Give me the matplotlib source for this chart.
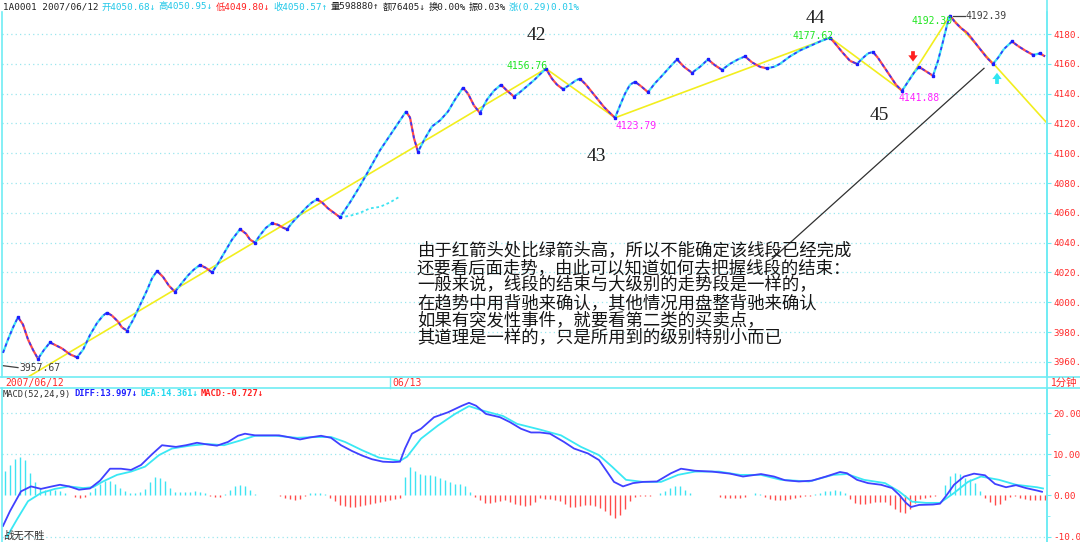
import numpy as np
import matplotlib.pyplot as plt
from matplotlib.collections import LineCollection
from matplotlib.lines import Line2D

# ---- price data (1 min bars, bar index ~ screen position) ----
price_bar = [3, 8, 13, 18, 23, 28, 33, 38, 44, 50, 56, 62, 70, 77, 83, 90, 97, 103,
             107, 112, 118, 122, 127, 133, 140, 147, 152, 157, 163, 169, 175, 182,
             188, 194, 200, 206, 212, 218, 225, 232, 240, 246, 250, 255, 260, 266,
             272, 278, 283, 287, 293, 300, 307, 312, 317, 322, 328, 334, 340, 350,
             360, 370, 380, 390, 400, 406, 410, 414, 418, 425, 432, 440, 448, 455,
             463, 468, 474, 480, 487, 494, 501, 507, 514, 520, 527, 534, 540, 546,
             552, 557, 563, 570, 576, 580, 586, 592, 598, 604, 610, 615, 620, 625,
             630, 635, 641, 648, 655, 662, 670, 677, 684, 692, 700, 708, 715, 722,
             730, 738, 745, 752, 760, 767, 774, 780, 790, 800, 810, 820, 830, 836,
             842, 850, 857, 863, 868, 873, 878, 885, 890, 896, 902, 908, 914, 919,
             926, 933, 938, 943, 947, 950, 955, 961, 967, 973, 980, 987, 993, 998,
             1004, 1012, 1018, 1025, 1033, 1040, 1045]
price_close = [3966, 3975, 3983, 3990, 3985, 3975, 3968, 3962, 3968, 3973, 3971, 3969,
               3965, 3963, 3968, 3978, 3986, 3991, 3993, 3991, 3987, 3983, 3981, 3988,
               3998, 4008, 4016, 4021, 4017, 4011, 4007, 4013, 4018, 4022, 4025, 4023,
               4020, 4026, 4034, 4042, 4049, 4046, 4042, 4040, 4045, 4050, 4053, 4052,
               4050, 4049, 4054, 4059, 4064, 4067, 4069, 4067, 4063, 4060, 4057, 4067,
               4078, 4090, 4102, 4112, 4122, 4128, 4124, 4110, 4101, 4110, 4118, 4122,
               4128, 4136, 4144, 4140, 4132, 4127, 4136, 4142, 4146, 4142, 4138, 4141,
               4145, 4149, 4153, 4156.76, 4150, 4146, 4143, 4146, 4149, 4150, 4146, 4141,
               4136, 4131, 4127, 4123.79, 4132, 4140, 4146, 4148, 4145, 4141, 4147, 4152,
               4158, 4163, 4158, 4154, 4158, 4163, 4159, 4156, 4160, 4163, 4165, 4161,
               4158, 4157, 4158, 4160, 4165, 4169, 4172, 4175, 4177.62, 4173, 4168, 4162,
               4160, 4164, 4167, 4168, 4164, 4157, 4152, 4146, 4141.88, 4148, 4154, 4158,
               4155, 4152, 4162, 4175, 4186, 4192.39, 4188, 4184, 4181, 4176, 4170, 4164,
               4160, 4164, 4170, 4175, 4172, 4169, 4166, 4167, 4165]

# short cyan dotted line (afternoon of 06/12)
aux_bar = [340, 350, 360, 370, 380, 390, 400]
aux_close = [4057, 4058, 4060, 4063, 4064, 4067, 4071]

# segment (xianduan) zigzag
seg_bar = [28, 546, 615, 830, 902, 950, 1046]
seg_val = [3949.8, 4156.76, 4123.79, 4177.62, 4141.88, 4192.39, 4121]

trend_bar = [772, 984]
trend_val = [4029, 4157]

price_ticks = [3960, 3980, 4000, 4020, 4040, 4060, 4080, 4100, 4120, 4140, 4160, 4180]

# ---- MACD data ----
diff_bar = [3, 10, 21, 31, 41, 52, 60, 69, 79, 90, 100, 110, 121, 131, 141, 152, 162,
            176, 186, 197, 207, 217, 228, 238, 245, 255, 269, 279, 290, 300, 310, 321,
            331, 341, 352, 362, 372, 383, 393, 400, 405, 412, 421, 434, 448, 462, 469,
            476, 486, 500, 510, 521, 531, 540, 550, 564, 574, 588, 599, 607, 614, 623,
            633, 643, 657, 671, 681, 695, 712, 730, 743, 761, 774, 785, 799, 812, 826,
            840, 847, 857, 868, 881, 892, 899, 906, 911, 919, 933, 940, 947, 954, 964,
            974, 985, 995, 1006, 1016, 1026, 1037, 1042]
diff_val = [-7.4, -3.8, 1.0, 2.2, 1.6, 2.2, 2.6, 2.2, 1.4, 1.7, 3.6, 6.5, 6.5, 6.2, 7.4,
            10.0, 12.2, 11.8, 12.2, 12.8, 12.4, 12.1, 13.0, 14.5, 15.0, 14.6, 14.6, 14.6,
            14.1, 13.6, 14.1, 14.5, 14.0, 12.2, 10.8, 9.7, 8.8, 8.2, 8.1, 8.2, 11.4, 15.0,
            16.2, 19.0, 20.2, 21.8, 22.5, 21.8, 19.8, 19.0, 17.8, 16.2, 15.3, 15.3, 15.0,
            13.0, 11.4, 10.2, 8.6, 5.8, 3.3, 2.2, 3.0, 3.3, 3.4, 5.4, 6.5, 6.0, 5.8, 5.3,
            4.6, 5.2, 4.6, 3.7, 3.4, 3.6, 4.6, 5.7, 5.4, 3.8, 3.0, 2.6, 1.8, 0.2, -1.8,
            -2.8, -2.3, -2.2, -2.0, 0.2, 2.6, 4.6, 5.3, 4.9, 2.8, 2.0, 2.5, 1.8, 1.2, 0.9]

dea_bar = [7, 17, 28, 41, 55, 69, 83, 93, 103, 117, 131, 145, 159, 172, 190, 207, 224,
           241, 255, 276, 297, 317, 331, 345, 362, 379, 400, 407, 421, 438, 455, 469,
           483, 503, 517, 540, 561, 581, 599, 612, 626, 643, 661, 678, 695, 719, 740,
           761, 781, 809, 833, 847, 864, 885, 899, 912, 926, 940, 954, 968, 981, 999,
           1016, 1037, 1043]
dea_val = [-10.0, -5.8, -1.4, 0.6, 1.6, 2.2, 1.8, 2.0, 3.4, 5.0, 5.8, 7.0, 9.8, 11.4,
           12.1, 12.5, 12.2, 13.4, 14.5, 14.5, 14.0, 14.2, 14.2, 13.0, 11.0, 9.2, 8.4,
           9.4, 13.8, 17.0, 19.8, 21.7, 20.6, 19.3, 17.4, 16.0, 14.6, 11.8, 9.8, 7.0,
           3.8, 3.3, 3.3, 5.0, 5.8, 5.8, 5.0, 5.0, 3.8, 3.4, 5.0, 5.2, 3.8, 3.0, 1.0,
           -1.5, -1.8, -1.8, 0.6, 3.3, 4.6, 3.8, 2.6, 2.0, 1.7]

# MACD histogram, one value every 5 bars starting at bar 5
macd_hist = [6.0, 7.5, 8.8, 9.3, 8.5, 5.5, 3.2, 1.8, 1.4, 1.4,
             1.3, 1.1, 0.5, 0.2, -0.4, -0.5, -0.3, 0.8, 1.8, 2.9,
             3.5, 3.4, 2.8, 1.8, 1.0, 0.7, 0.6, 0.9, 1.6, 3.2,
             4.4, 4.3, 3.4, 1.8, 0.9, 0.8, 0.8, 0.9, 1.0, 0.8,
             0.5, -0.2, -0.3, -0.3, 0.3, 1.4, 2.3, 2.6, 2.3, 1.4,
             0.4, 0.1, 0.2, 0.2, 0.2, -0.1, -0.6, -0.9, -1.0, -0.8,
             -0.2, 0.5, 0.6, 0.6, 0.4, -0.6, -1.4, -2.2, -2.5, -2.7,
             -2.7, -2.6, -2.4, -2.1, -1.8, -1.6, -1.3, -1.0, -0.8, -0.6,
             4.5, 6.8, 6.0, 5.2, 5.0, 4.9, 4.8, 4.3, 3.8, 3.2,
             2.9, 2.8, 2.2, 0.8, -0.4, -1.2, -1.9, -1.8, -1.5, -1.3,
             -1.2, -1.6, -2.1, -2.4, -2.6, -2.3, -1.6, -0.7, -0.8, -0.9,
             -1.0, -1.3, -2.0, -2.7, -2.8, -2.6, -2.4, -2.2, -2.5, -3.0,
             -3.8, -4.8, -5.5, -4.8, -3.3, -1.4, -0.4, -0.1, -0.1, -0.1,
             0.2, 0.6, 1.1, 1.8, 2.3, 2.4, 1.4, 0.5, 0.1, 0.05,
             0.05, 0.05, 0.05, -0.4, -0.5, -0.5, -0.5, -0.5, -0.3, 0.2,
             0.5, 0.3, -0.4, -0.9, -1.0, -1.1, -1.0, -0.8, -0.6, -0.3,
             -0.2, -0.2, 0.4, 0.7, 1.0, 1.2, 1.4, 1.0, 0.6, -0.8,
             -1.8, -2.0, -2.0, -1.9, -1.6, -1.6, -1.7, -2.2, -3.2, -3.9,
             -4.2, -3.2, -1.8, -0.9, -0.5, -0.4, -0.2, 0.2, 2.5, 4.8,
             5.4, 5.2, 4.2, 3.9, 3.0, 1.0, -0.6, -1.6, -2.2, -2.0,
             -1.2, -0.4, -0.2, -0.5, -0.8, -1.0, -1.1, -1.2, -1.2]
macd_ticks = [-10, 0, 10, 20]

notes = ["由于红箭头处比绿箭头高，所以不能确定该线段已经完成",
         "还要看后面走势，由此可以知道如何去把握线段的结束：",
         "一般来说，线段的结束与大级别的走势段是一样的，",
         "在趋势中用背驰来确认，其他情况用盘整背驰来确认",
         "如果有突发性事件，就要看第二类的买卖点，",
         "其道理是一样的，只是所用到的级别特别小而已"]

header = [("1A0001 2007/06/12", "#202020"), ("开4050.68↓", "#22c8e8"),
          ("高4050.95↓", "#22c8e8"), ("低4049.80↓", "#ff2020"),
          ("收4050.57↑", "#22c8e8"), ("量598880↑", "#202020"),
          ("额76405↓", "#202020"), ("换0.00%", "#202020"),
          ("振0.03%", "#202020"), ("涨(0.29)0.01%", "#22c8e8")]
macd_head = [("MACD(52,24,9)", "#303030", "normal"), ("DIFF:13.997↓", "#2020ff", "bold"),
             ("DEA:14.361↓", "#22d8ee", "bold"), ("MACD:-0.727↓", "#ff2020", "bold")]

W, H = 1080, 542
CYAN = "#70ecf4"
GRID = "#9ae6ee"
RED = "#ff2a2a"
UP = "#3ee4f2"
DOWN = "#ff4a4a"
BLUE = "#3636ff"
MONO = ["DejaVu Sans Mono", "Noto Sans CJK SC"]
CJK = ["Noto Sans CJK SC", "DejaVu Sans"]


def px_rect(x0, y0, x1, y1):
    return [x0 / W, 1 - y1 / H, (x1 - x0) / W, (y1 - y0) / H]


def text_row(fig, pieces, x0, y, size, gap):
    # lay coloured pieces one after another on a single line
    r = fig.canvas.get_renderer()
    x = x0
    for p in pieces:
        s, c = p[0], p[1]
        w = p[2] if len(p) > 2 else "normal"
        t = fig.text(x / W, 1 - y / H, s, color=c, fontsize=size, va="center",
                     family=MONO, weight=w)
        x = t.get_window_extent(r).x1 + gap


fig = plt.figure(figsize=(W / 100, H / 100), dpi=100)

# frame lines of the date strip and right scale
for yy in (377, 388):
    fig.add_artist(Line2D([0, 1], [1 - yy / H] * 2, color=CYAN, lw=1.2))
fig.add_artist(Line2D([1047 / W] * 2, [0, 1], color=CYAN, lw=1.2))
fig.add_artist(Line2D([390 / W] * 2, [1 - 388 / H, 1 - 377 / H], color=CYAN, lw=1))

text_row(fig, header, 3, 7, 6.7, 3)
text_row(fig, macd_head, 3, 394, 6.3, 3)
fig.text(5 / W, 1 - 383 / H, "2007/06/12", color=RED, fontsize=7, va="center", family=MONO)
fig.text(392 / W, 1 - 383 / H, "06/13", color=RED, fontsize=7, va="center", family=MONO)
fig.text(1050 / W, 1 - 383 / H, "1分钟", color=RED, fontsize=7.5, va="center", family=CJK)
fig.text(3 / W, 1 - 536 / H, "战无不胜", color="#303030", fontsize=7.5, va="center", family=CJK)

# ---------------- price panel ----------------
ax = fig.add_axes(px_rect(2, 12, 1047, 377))
ax.set_xlim(2, 1047)
ax.set_ylim(3949.8, 4194.8)
for s in ("top", "bottom"):
    ax.spines[s].set_visible(False)
for s in ("left", "right"):
    ax.spines[s].set_color(CYAN)
    ax.spines[s].set_linewidth(1.2)
ax.set_xticks([])
ax.yaxis.tick_right()
ax.set_yticks(price_ticks)
ax.set_yticklabels([f"{v:.2f}" for v in price_ticks])
ax.tick_params(axis="y", color=CYAN, labelcolor=RED, length=3, pad=1.5,
               labelsize=6.7, labelfontfamily="DejaVu Sans Mono")
ax.grid(axis="y", color=GRID, ls=(0, (1, 2.5)), lw=0.9)

bars = np.array(price_bar, dtype=float)
close = np.array(price_close)
pts = np.column_stack([bars, close])
segs = np.stack([pts[:-1], pts[1:]], axis=1)
seg_col = [UP if d >= 0 else DOWN for d in np.diff(close)]
ax.add_collection(LineCollection(segs, colors=seg_col, lw=1.6, zorder=3))
ax.plot(bars, close, color=BLUE, lw=1.2, dashes=(2, 2), zorder=4)
piv = [i for i in range(1, len(close) - 1)
       if (close[i] - close[i - 1]) * (close[i + 1] - close[i]) < 0]
ax.plot(bars[piv], close[piv], "s", ms=2, color="#1c1cff", zorder=5)
ax.plot(aux_bar, aux_close, color=UP, lw=1.3, ls=(0, (1.5, 1.5)), zorder=3)

ax.plot(seg_bar, seg_val, color="#f2ee1e", lw=1.2, zorder=2)
ax.plot(trend_bar, trend_val, color="#303030", lw=0.9, zorder=2)

# arrows
arrow_style = "simple,head_length=0.5,head_width=0.75,tail_width=0.3"
ax.annotate("", xy=(913, 4161.5), xytext=(913, 4168.5),
            arrowprops=dict(arrowstyle=arrow_style, color="#ff2020", lw=0,
                            shrinkA=0, shrinkB=0, mutation_scale=9), zorder=6)
ax.annotate("", xy=(997, 4154), xytext=(997, 4146.5),
            arrowprops=dict(arrowstyle=arrow_style, color="#30e6f2", lw=0,
                            shrinkA=0, shrinkB=0, mutation_scale=9), zorder=6)

# price labels
lab = dict(fontsize=7, family=MONO, ha="center", va="center", zorder=7)
ax.text(527, 4158.5, "4156.76", color="#22e622", **lab)
ax.text(636, 4118.3, "4123.79", color="#ff22ff", **lab)
ax.text(813, 4178.7, "4177.62", color="#22e622", **lab)
ax.text(919, 4137.0, "4141.88", color="#ff22ff", **lab)
ax.text(932, 4188.9, "4192.39", color="#22e622", **lab)
ax.plot([953, 965], [4192.2, 4192.2], color="#404040", lw=0.9)
ax.text(966, 4192.2, "4192.39", color="#404040", fontsize=7, family=MONO,
        ha="left", va="center", clip_on=False)
ax.plot([3, 18], [3957.4, 3956.1], color="#404040", lw=0.9)
ax.text(19, 3955.6, "3957.67", color="#404040", fontsize=7, family=MONO,
        ha="left", va="center")

big = dict(fontsize=14, family="Liberation Serif", color="#202020",
           ha="center", va="center", clip_on=False)
ax.text(536, 4179.3, "42", **big)
ax.text(596, 4097.5, "43", **big)
ax.text(815, 4190.7, "44", **big)
ax.text(879, 4125.0, "45", **big)

for i, line in enumerate(notes):
    ax.text(417, 4035.0 - 11.8 * i, line, fontsize=12.5, family=CJK,
            color="#151515", ha="left", va="center")

# ---------------- MACD panel ----------------
ax2 = fig.add_axes(px_rect(2, 388, 1047, 542))
ax2.set_xlim(2, 1047)
ax2.set_ylim(-11.3, 26.1)
for s in ("top", "bottom"):
    ax2.spines[s].set_visible(False)
for s in ("left", "right"):
    ax2.spines[s].set_color(CYAN)
    ax2.spines[s].set_linewidth(1.2)
ax2.set_xticks([])
ax2.yaxis.tick_right()
ax2.set_yticks(macd_ticks)
ax2.set_yticklabels([f"{v:.2f}" for v in macd_ticks])
ax2.set_yticks([-5, 5, 15], minor=True)
ax2.tick_params(axis="y", which="both", color=CYAN, labelcolor=RED, length=3,
                pad=1.5, labelsize=6.7, labelfontfamily="DejaVu Sans Mono")
ax2.tick_params(axis="y", which="minor", length=2)
for v in macd_ticks:
    if v != 0:
        ax2.axhline(v, color=GRID, ls=(0, (1, 2.5)), lw=0.9)

hist = np.array(macd_hist)
hist_x = np.arange(len(hist)) * 5 + 5
ax2.vlines(hist_x, 0, hist, colors=[UP if h >= 0 else DOWN for h in hist], lw=1.0)
ax2.plot(dea_bar, dea_val, color="#3ae8f4", lw=1.3)
ax2.plot(diff_bar, diff_val, color="#4040ff", lw=1.3)

fig.savefig("out.png", dpi=100, facecolor="white")
